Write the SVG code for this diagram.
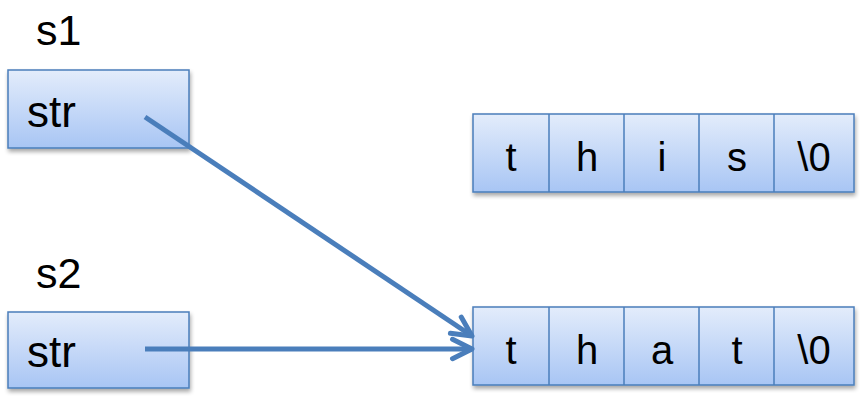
<svg xmlns="http://www.w3.org/2000/svg" width="860" height="396" viewBox="0 0 860 396">
  <style>
    .box { fill: url(#cellFill); stroke: #4A7EBB; stroke-width: 1.5; filter: url(#shadow); }
    .div { stroke: #4A7EBB; stroke-width: 1.5; }
    .txt { font-family: "Liberation Sans", Arial, sans-serif; fill: #000; }
    .lbl { font-size: 43px; }
    .fld { font-size: 44px; }
    .chr { font-size: 40px; text-anchor: middle; }
    .conn { stroke: #4A7EBB; stroke-width: 5; fill: none; marker-end: url(#head); }
  </style>
  <defs>
    <linearGradient id="cellFill" x1="0" y1="0" x2="0" y2="1">
      <stop offset="0" stop-color="#E3ECFB"/>
      <stop offset="1" stop-color="#A8C5F4"/>
    </linearGradient>
    <filter id="shadow" x="-10%" y="-10%" width="120%" height="130%">
      <feGaussianBlur in="SourceAlpha" stdDeviation="2"/>
      <feOffset dx="1" dy="3" result="b"/>
      <feComponentTransfer><feFuncA type="linear" slope="0.35"/></feComponentTransfer>
      <feMerge><feMergeNode/><feMergeNode in="SourceGraphic"/></feMerge>
    </filter>
    <marker id="head" viewBox="0 0 12 12" refX="10.5" refY="6" markerWidth="26" markerHeight="26" orient="auto" markerUnits="userSpaceOnUse">
      <path d="M1.5,1.5 L10.5,6 L1.5,10.5" fill="none" stroke="#4A7EBB" stroke-width="2.3" stroke-linecap="round" stroke-linejoin="round"/>
    </marker>
  </defs>

  <!-- pointer variable s1 -->
  <g id="s1">
    <text class="txt lbl" x="36" y="45">s1</text>
    <rect class="box" x="8" y="70" width="181" height="78"/>
    <text class="txt fld" x="27" y="127">str</text>
  </g>

  <!-- pointer variable s2 -->
  <g id="s2">
    <text class="txt lbl" x="36" y="288">s2</text>
    <rect class="box" x="8" y="312" width="181" height="76"/>
    <text class="txt fld" x="27" y="367">str</text>
  </g>

  <!-- char array "this" -->
  <g id="arr-this">
    <rect class="box" x="473" y="114" width="381" height="78"/>
    <line class="div" x1="549" y1="114" x2="549" y2="192"/>
    <line class="div" x1="624" y1="114" x2="624" y2="192"/>
    <line class="div" x1="699" y1="114" x2="699" y2="192"/>
    <line class="div" x1="774" y1="114" x2="774" y2="192"/>
    <text class="txt chr" x="511" y="171">t</text>
    <text class="txt chr" x="587" y="171">h</text>
    <text class="txt chr" x="662" y="171">i</text>
    <text class="txt chr" x="737" y="171">s</text>
    <text class="txt chr" x="814" y="171">\0</text>
  </g>

  <!-- char array "that" -->
  <g id="arr-that">
    <rect class="box" x="473" y="307" width="381" height="78"/>
    <line class="div" x1="549" y1="307" x2="549" y2="385"/>
    <line class="div" x1="624" y1="307" x2="624" y2="385"/>
    <line class="div" x1="699" y1="307" x2="699" y2="385"/>
    <line class="div" x1="774" y1="307" x2="774" y2="385"/>
    <text class="txt chr" x="511" y="364">t</text>
    <text class="txt chr" x="587" y="364">h</text>
    <text class="txt chr" x="662" y="364">a</text>
    <text class="txt chr" x="737" y="364">t</text>
    <text class="txt chr" x="814" y="364">\0</text>
  </g>

  <!-- pointers -->
  <g id="connectors">
    <line class="conn" x1="145" y1="117" x2="472" y2="336"/>
    <line class="conn" x1="145" y1="349" x2="472" y2="349"/>
  </g>
</svg>
